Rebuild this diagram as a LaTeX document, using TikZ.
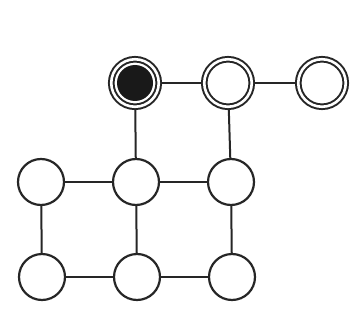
\documentclass[tikz,border=0pt]{standalone}
\begin{document}
\begin{tikzpicture}[x=1pt,y=-1pt,
  ink/.style={draw=black!85},
  plain/.style={circle,ink,line width=2.2pt,fill=white,minimum size=46pt,inner sep=0pt},
  ring/.style={circle,ink,line width=2pt,double=white,double distance=2.6pt,fill=white,minimum size=47.5pt,inner sep=0pt,outer sep=3.3pt},
  edge/.style={ink,line width=2pt}]
\useasboundingbox (0,0) rectangle (363,331);
\node[ring] (a) at (135,83) {};
\node[ring] (b) at (228,83) {};
\node[ring] (c) at (322,83) {};
\node[plain] (d) at (41,182) {};
\node[plain] (e) at (136,182) {};
\node[plain] (f) at (231,182) {};
\node[plain] (g) at (42,277) {};
\node[plain] (h) at (137,277) {};
\node[plain] (i) at (232,277) {};
\fill[black!90] (a.center) circle (18pt);
\draw[edge] (a) -- (b);
\draw[edge] (b) -- (c);
\draw[edge] (a) -- (e);
\draw[edge] (b) -- (f);
\draw[edge] (d) -- (e);
\draw[edge] (e) -- (f);
\draw[edge] (d) -- (g);
\draw[edge] (e) -- (h);
\draw[edge] (f) -- (i);
\draw[edge] (g) -- (h);
\draw[edge] (h) -- (i);
\end{tikzpicture}
\end{document}
